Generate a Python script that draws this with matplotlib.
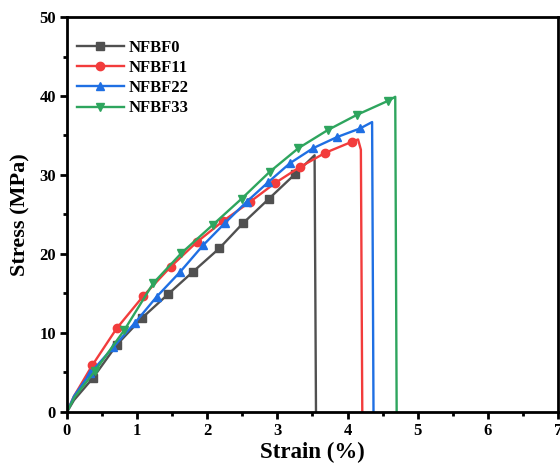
import matplotlib
matplotlib.use('Agg')
import matplotlib.pyplot as plt
from matplotlib.ticker import MultipleLocator

# stress-strain curves; marker_idx = points that carry a marker
names = ['NFBF0', 'NFBF11', 'NFBF22', 'NFBF33']

strain_0 = [0, 0.1, 0.37, 0.71, 1.07, 1.44, 1.79, 2.17, 2.51, 2.88, 3.25, 3.53, 3.55]
stress_0 = [0, 1.5, 4.3, 8.5, 11.9, 14.9, 17.7, 20.7, 23.9, 27.0, 30.1, 32.5, 0]
marks_0 = [2, 3, 4, 5, 6, 7, 8, 9, 10]

strain_11 = [0, 0.1, 0.36, 0.71, 1.09, 1.48, 1.85, 2.23, 2.61, 2.97, 3.32, 3.68, 4.06, 4.15, 4.19, 4.21]
stress_11 = [0, 2.0, 5.9, 10.6, 14.7, 18.4, 21.5, 24.2, 26.6, 29.0, 31.0, 32.8, 34.2, 34.5, 33.2, 0]
marks_11 = [2, 3, 4, 5, 6, 7, 8, 9, 10, 11, 12]

strain_22 = [0, 0.1, 0.33, 0.66, 0.97, 1.28, 1.61, 1.94, 2.25, 2.56, 2.87, 3.18, 3.51, 3.85, 4.18, 4.35, 4.37]
stress_22 = [0, 2.0, 4.9, 8.2, 11.3, 14.6, 17.7, 21.1, 23.9, 26.6, 29.1, 31.5, 33.4, 34.8, 35.9, 36.7, 0]
marks_22 = [2, 3, 4, 5, 6, 7, 8, 9, 10, 11, 12, 13, 14]

strain_33 = [0, 0.11, 0.4, 0.82, 1.23, 1.63, 2.08, 2.49, 2.89, 3.3, 3.72, 4.13, 4.58, 4.68, 4.70]
stress_33 = [0, 1.9, 5.2, 10.4, 16.3, 20.1, 23.7, 27.0, 30.4, 33.4, 35.7, 37.6, 39.4, 39.9, 0]
marks_33 = [2, 3, 4, 5, 6, 7, 8, 9, 10, 11, 12]

strains = [strain_0, strain_11, strain_22, strain_33]
stresses = [stress_0, stress_11, stress_22, stress_33]
marks = [marks_0, marks_11, marks_22, marks_33]
colors = ['#505050', '#f23c3c', '#1f6fe3', '#2ea55e']
markers = ['s', 'o', '^', 'v']

plt.rcParams['font.family'] = ['Liberation Serif', 'DejaVu Serif']
plt.rcParams['font.weight'] = 'bold'

fig = plt.figure(figsize=(5.6, 4.71), dpi=100)
ax = fig.add_axes([0.1196, 0.1253, 0.9964 - 0.1196, 0.9639 - 0.1253])

for i in range(len(names)):
    ax.plot(strains[i], stresses[i], color=colors[i], lw=1.7,
            marker=markers[i], markevery=marks[i], ms=6, label=names[i])

ax.set_xlim(0, 7)
ax.set_ylim(0, 50)
ax.xaxis.set_major_locator(MultipleLocator(1))
ax.xaxis.set_minor_locator(MultipleLocator(0.5))
ax.yaxis.set_major_locator(MultipleLocator(10))
ax.yaxis.set_minor_locator(MultipleLocator(5))
ax.tick_params(which='major', direction='out', length=5, width=2, labelsize=12, pad=3)
ax.tick_params(which='minor', direction='out', length=3, width=2)
for lab in ax.get_xticklabels() + ax.get_yticklabels():
    lab.set_fontweight('bold')
for s in ax.spines.values():
    s.set_linewidth(2)

ax.set_xlabel('Strain (%)', fontsize=16.5, fontweight='bold', labelpad=2)
ax.set_ylabel('Stress (MPa)', fontsize=16, fontweight='bold', labelpad=6)

leg = ax.legend(loc='upper left', frameon=False, fontsize=12, handlelength=2.8,
                labelspacing=0.25, handletextpad=0.3, borderaxespad=0.5,
                bbox_to_anchor=(-0.01, 0.98))
for t in leg.get_texts():
    t.set_fontweight('bold')

plt.savefig('out.png', dpi=100)
